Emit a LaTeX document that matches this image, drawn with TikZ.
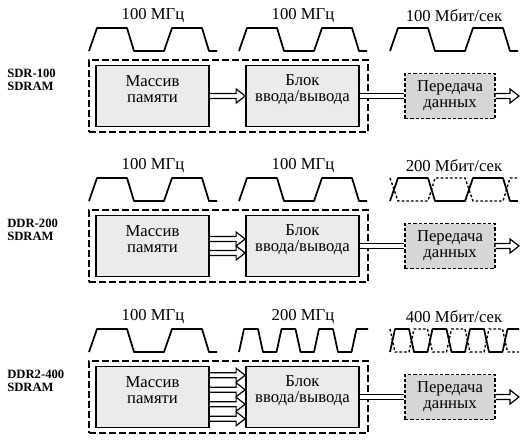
\documentclass[tikz,border=0pt]{standalone}
\usepackage{fontspec}
\setmainfont{Liberation Serif}
\usetikzlibrary{calc}

% waveforms, measured in px: one period at 100 MHz is 75 px
\newcommand\slowwave{(0,11.5) -- ++(8,-23) -- ++(30,0) -- ++(7,23) -- ++(30,0)
  -- ++(8,-23) -- ++(30,0) -- ++(7,23) -- ++(8,0)}
\newcommand\fastwave{(0,11.5) -- ++(5,-23) -- ++(14,0) -- ++(5,23) -- ++(13.5,0)
  -- ++(5,-23) -- ++(14,0) -- ++(5,23) -- ++(13.5,0)
  -- ++(5,-23) -- ++(14,0) -- ++(5,23) -- ++(13.5,0)
  -- ++(5,-23) -- ++(11.5,0)}
% wide hollow arrow: from, to, vertical offset
\newcommand\hollowarrow[3]{%
  \draw[arrowline] ($(#1)+(0,#3+2.5)$) -- ($(#2)+(-9,#3+2.5)$) -- ($(#2)+(-9,#3+7)$)
    -- ($(#2)+(0,#3)$) -- ($(#2)+(-9,#3-7)$) -- ($(#2)+(-9,#3-2.5)$) -- ($(#1)+(0,#3-2.5)$);}

\begin{document}
\begin{tikzpicture}[x=0.75pt, y=-0.75pt,
  frame/.style={draw, line width=1.1pt, dash pattern=on 5pt off 2.5pt, minimum width=209.25pt, minimum height=54pt},
  box/.style={draw, line width=1.3pt, fill=black!8, minimum width=84.75pt, minimum height=45.75pt},
  xfer/.style={draw, line width=1.1pt, dash pattern=on 2.5pt off 1.5pt, fill=black!16, minimum width=67.5pt, minimum height=33.75pt, align=center, font=\fontsize{12.5}{12}\selectfont, inner sep=0pt},
  boxtext/.style={align=center, font=\fontsize{12.5}{12}\selectfont, yshift=5pt},
  tag/.style={anchor=west, inner sep=0pt, align=left, font=\fontsize{9.5}{9.8}\selectfont\bfseries},
  rate/.style={font=\fontsize{12.5}{12}\selectfont},
  wave/.style={line width=1.3pt, line join=round},
  ghost/.style={line width=1pt, dash pattern=on 2pt off 1.5pt},
  bar/.style={line width=0.9pt, double, double distance=2.8pt},
  arrowline/.style={line width=0.9pt, fill=white}]

\useasboundingbox (0,0) rectangle (524,440);

\foreach \r/\dy/\tagtext/\fa/\fb/\rt in {1/0/SDR-100/100/100/100, 2/150/DDR-200/100/100/200, 3/301/DDR2-400/100/200/400}{
  \node[tag] (tag\r) at (7,79.5+\dy) {\tagtext\\SDRAM};
  \node[rate] (fa\r) at (153,16+\dy) {\fa{} МГц};
  \node[rate] (fb\r) at (303,16+\dy) {\fb{} МГц};
  \node[rate] (rt\r) at (454,16+\dy) {\rt{} Мбит/сек};
  \node[frame] (frame\r) at (228.5,96+\dy) {};
  \node[box, label={[boxtext, name=memtxt\r]center:Массив\\памяти}] (mem\r) at (152.5,96+\dy) {};
  \node[box, label={[boxtext, name=iotxt\r]center:Блок\\ввода/вывода}] (io\r) at (302.5,96+\dy) {};
  \node[xfer] (xf\r) at (450,96+\dy) {Передача\\данных};
  \coordinate (out\r) at (519,96+\dy);
  \draw[bar] (io\r.east) -- (xf\r.west);
  \hollowarrow{xf\r.east}{out\r}{0}
}

% memory array to i/o block
\hollowarrow{mem1.east}{io1.west}{0}
\foreach \k in {-7,7} {\hollowarrow{mem2.east}{io2.west}{\k}}
\foreach \k in {-21.75,-7.25,7.25,21.75} {\hollowarrow{mem3.east}{io3.west}{\k}}

% clocks
\foreach \dy in {0,150,301} \draw[wave, shift={(89,39.5+\dy)}] \slowwave;
\foreach \dy in {0,150} \draw[wave, shift={(239,39.5+\dy)}] \slowwave;
\draw[wave, shift={(239,340.5)}] \fastwave;

% data
\foreach \dy in {0,150} \draw[wave, shift={(390,39.5+\dy)}] \slowwave;
\draw[ghost, shift={(390,189.5)}, yscale=-1] \slowwave;
\draw[wave, shift={(390,340.5)}] \fastwave;
\draw[ghost, shift={(390,340.5)}, yscale=-1] \fastwave;
\end{tikzpicture}
\end{document}
